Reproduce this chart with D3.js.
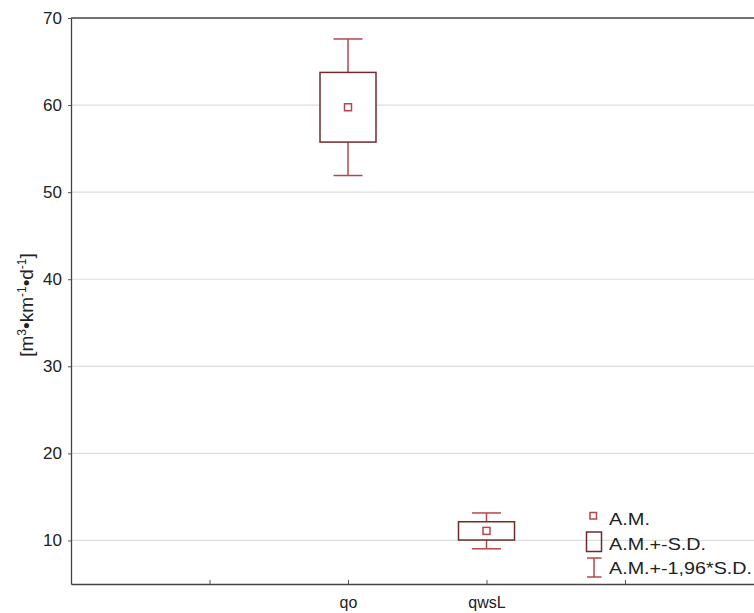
<!DOCTYPE html>
<html>
<head>
<meta charset="utf-8">
<script src="https://cdn.jsdelivr.net/npm/d3@7"></script>
<style>
  body { margin: 0; background: #fff; }
  text { font-family: "Liberation Sans", Arial, sans-serif; fill: #222; }
</style>
</head>
<body>
<script>
var w = 754;
var h = 613;

// data
var tickNames = ["", "qo", "qwsL", ""];
var groups = ["qo", "qwsL"];
var means = [59.75, 11.1];
var sds = [4.0, 1.05];
var yTicks = [10, 20, 30, 40, 50, 60, 70];
var legendLabels = ["A.M.", "A.M.+-S.D.", "A.M.+-1,96*S.D."];

var plotLeft = 71, plotTop = 18, plotBottom = 584;

var svg = d3.select("body").append("svg")
    .attr("width", w)
    .attr("height", h);

var x = d3.scaleLinear().domain([0, 5]).range([plotLeft, plotLeft + 5 * 138.5]);
var y = d3.scaleLinear().domain([5, 70]).range([plotBottom, plotTop]);

//gridlines
svg.selectAll("line.grid")
    .data(yTicks.filter(function (d) { return d < 70; }))
    .enter().append("line")
    .attr("class", "grid")
    .attr("x1", plotLeft).attr("x2", w)
    .attr("y1", function (d) { return y(d); })
    .attr("y2", function (d) { return y(d); })
    .style("stroke", "#dedede")
    .style("stroke-width", 1.2);

//y axis
var yAxis = svg.append("g")
    .attr("transform", "translate(" + plotLeft + ",0)")
    .call(d3.axisLeft(y).tickValues(yTicks).tickSize(3).tickPadding(6).tickSizeOuter(0));
yAxis.selectAll("text").style("font-size", "17px");
yAxis.selectAll("line").style("stroke", "#555");
yAxis.select(".domain").style("stroke", "#444").style("stroke-width", 1.3);

//x axis
var xAxis = svg.append("g")
    .attr("transform", "translate(0," + plotBottom + ")")
    .call(d3.axisBottom(x).tickValues([1, 2, 3, 4])
        .tickFormat(function (d) { return tickNames[d - 1]; })
        .tickSize(-4).tickPadding(13).tickSizeOuter(0));
xAxis.selectAll("text").style("font-size", "16px");
xAxis.selectAll("line").style("stroke", "#555");
xAxis.select(".domain").style("stroke", "#444").style("stroke-width", 1.3);

//top frame
svg.append("line")
    .attr("x1", plotLeft).attr("x2", w)
    .attr("y1", y(70)).attr("y2", y(70))
    .style("stroke", "#444").style("stroke-width", 1.3);

//y label
svg.append("text")
    .attr("transform", "translate(33,305) rotate(-90)")
    .attr("text-anchor", "middle")
    .style("font-size", "19px")
    .html('[m<tspan dy="-7" font-size="12">3</tspan><tspan dy="7">•km</tspan>' +
          '<tspan dy="-7" font-size="12">-1</tspan><tspan dy="7">•d</tspan>' +
          '<tspan dy="-7" font-size="12">-1</tspan><tspan dy="7">]</tspan>');

var boxW = 56, capW = 29, dot = 7;
var whiskCol = "#b5474a", boxCol = "#6e2b2d";

var g = svg.selectAll("g.box")
    .data(groups)
    .enter().append("g")
    .attr("class", "box");

g.each(function (d, i) {
    var cx = x(i + 2);
    var m = means[i], s = sds[i];
    var sel = d3.select(this);
    //whisker
    sel.append("line")
        .attr("x1", cx).attr("x2", cx)
        .attr("y1", y(m + 1.96 * s)).attr("y2", y(m - 1.96 * s))
        .style("stroke", whiskCol).style("stroke-width", 1.5);
    [m + 1.96 * s, m - 1.96 * s].forEach(function (v) {
        sel.append("line")
            .attr("x1", cx - capW / 2).attr("x2", cx + capW / 2)
            .attr("y1", y(v)).attr("y2", y(v))
            .style("stroke", whiskCol).style("stroke-width", 1.5);
    });
    //box
    sel.append("rect")
        .attr("x", cx - boxW / 2)
        .attr("y", y(m + s))
        .attr("width", boxW)
        .attr("height", y(m - s) - y(m + s))
        .style("fill", "#fff")
        .style("stroke", boxCol).style("stroke-width", 1.5);
    //mean
    sel.append("rect")
        .attr("x", cx - dot / 2).attr("y", y(m) - dot / 2)
        .attr("width", dot).attr("height", dot)
        .style("fill", "none")
        .style("stroke", whiskCol).style("stroke-width", 1.5);
});

//legend
var lg = svg.append("g");
lg.append("rect")
    .attr("x", 590).attr("y", 512.5).attr("width", 6.5).attr("height", 6.5)
    .style("fill", "none").style("stroke", whiskCol).style("stroke-width", 1.5);
lg.append("rect")
    .attr("x", 586.5).attr("y", 532).attr("width", 15).attr("height", 19.5)
    .style("fill", "none").style("stroke", boxCol).style("stroke-width", 1.5);
lg.append("line").attr("x1", 594).attr("x2", 594).attr("y1", 558).attr("y2", 577)
    .style("stroke", whiskCol).style("stroke-width", 1.5);
lg.append("line").attr("x1", 587).attr("x2", 601.5).attr("y1", 558).attr("y2", 558)
    .style("stroke", whiskCol).style("stroke-width", 1.5);
lg.append("line").attr("x1", 587).attr("x2", 601.5).attr("y1", 577).attr("y2", 577)
    .style("stroke", whiskCol).style("stroke-width", 1.5);

var legendY = [525, 550, 574];
var legendW = [41, 97, 143];
lg.selectAll("text.leg")
    .data(legendLabels)
    .enter().append("text")
    .attr("class", "leg")
    .attr("x", 609)
    .attr("y", function (d, i) { return legendY[i]; })
    .attr("textLength", function (d, i) { return legendW[i]; })
    .attr("lengthAdjust", "spacingAndGlyphs")
    .style("font-size", "17px")
    .text(function (d) { return d; });
</script>
</body>
</html>
